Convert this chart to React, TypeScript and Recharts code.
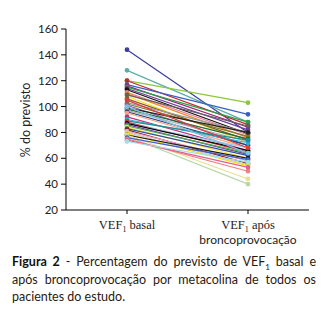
import React from "react";
import { LineChart, Line, XAxis, YAxis } from "recharts";

const categories = ["basal", "apos"];
const yTicks = [20, 40, 60, 80, 100, 120, 140, 160];
const basalValues = [144, 128, 120, 120, 117, 116, 115, 114, 113, 111, 110, 108, 106, 103, 102, 101, 99, 98, 97, 96, 95, 92, 90, 89, 88, 87, 87, 86, 85, 84, 83, 82, 81, 80, 79, 78, 78, 77, 76, 75, 74, 73, 105, 100, 109];
const aposValues = [80, 88, 103, 86, 94, 84, 88, 82, 79, 78, 76, 72, 74, 80, 77, 70, 80, 75, 73, 70, 68, 66, 72, 74, 65, 68, 66, 63, 64, 60, 62, 56, 58, 55, 54, 60, 44, 40, 59, 50, 53, 57, 68, 64, 85];
const seriesColors = ["#3b3b9c", "#5aaea8", "#8cc63f", "#c0282d", "#3b5fc0", "#a02070", "#2e9e48", "#6a3d9a", "#111111", "#e87ca0", "#f08a24", "#f7e11a", "#8b5a2b", "#9a9a9a", "#7a7a30", "#8e5ca8", "#222222", "#1f6b3a", "#b0b0b0", "#2a3f7e", "#f4a582", "#c0307a", "#30b0d0", "#1f8f8f", "#d03030", "#9cc8ec", "#000000", "#7040a0", "#4caf50", "#ffe030", "#3050a0", "#801818", "#f0a0c0", "#c8c8c8", "#f5d800", "#1a1a1a", "#e8e090", "#b8d8a8", "#4060d0", "#f08080", "#e06090", "#a0e0e8", "#e03a3a", "#7fc0e8", "#606060"];

const seriesKeys = basalValues.map((_, i) => `s${i}`);
const data = categories.map((c, ci) => {
  const row: any = { name: c };
  seriesKeys.forEach((k, i) => {
    row[k] = ci === 0 ? basalValues[i] : aposValues[i];
  });
  return row;
});

const XTick = (props: any) => {
  const { x, y, payload } = props;
  if (payload.index === 0) {
    return (
      <text x={x} y={y + 13} textAnchor="middle" fontFamily="Liberation Serif" fontSize={12.5} fill="#222">
        VEF<tspan fontSize={8} dy={3}>1</tspan><tspan dy={-3}> basal</tspan>
      </text>
    );
  }
  return (
    <g>
      <text x={x} y={y + 13} textAnchor="middle" fontFamily="Liberation Serif" fontSize={12.5} fill="#222">
        VEF<tspan fontSize={8} dy={3}>1</tspan><tspan dy={-3}> após</tspan>
      </text>
      <text x={x} y={y + 28} textAnchor="middle" fontFamily="Lato" fontSize={12} fill="#222">
        broncoprovocação
      </text>
    </g>
  );
};

export default function App() {
  return (
    <div style={{ position: "relative", width: 312, height: 310 }}>
      <LineChart width={312} height={250} data={data} margin={{ top: 21, right: 11, bottom: 0, left: 0 }}>
        <XAxis dataKey="name" tick={<XTick />} padding={{ left: 61, right: 61 }} tickSize={4} tickMargin={2} height={48} stroke="#000" axisLine={{ stroke: "#000" }} tickLine={{ stroke: "#000" }} />
        <YAxis domain={[20, 160]} ticks={yTicks} width={58} tickSize={5} tickMargin={3} stroke="#000" tick={{ fontFamily: "Lato", fontSize: 11.5, fill: "#222" }} interval={0} />
        {seriesKeys.map((k, i) => (
          <Line key={k} dataKey={k} stroke={seriesColors[i]} strokeWidth={1.2} dot={{ r: 1.8, fill: seriesColors[i], stroke: seriesColors[i] }} isAnimationActive={false} />
        ))}
      </LineChart>
      <div style={{ position: "absolute", left: 17, top: 112, transform: "translate(-50%, -50%) rotate(-90deg)", fontFamily: "Lato", fontSize: 12.5, color: "#222", whiteSpace: "nowrap" }}>
        % do previsto
      </div>
      <div style={{ position: "absolute", left: 4, top: 245, width: 304, fontFamily: "Lato", fontSize: 12.5, lineHeight: "17.5px", color: "#2a1a10", textAlign: "justify" }}>
        <b style={{ color: "#111" }}>Figura 2</b> - Percentagem do previsto de VEF<sub style={{ fontSize: 8, lineHeight: 0 }}>1</sub> basal e após broncoprovocação por metacolina de todos os pacientes do estudo.
      </div>
    </div>
  );
}
